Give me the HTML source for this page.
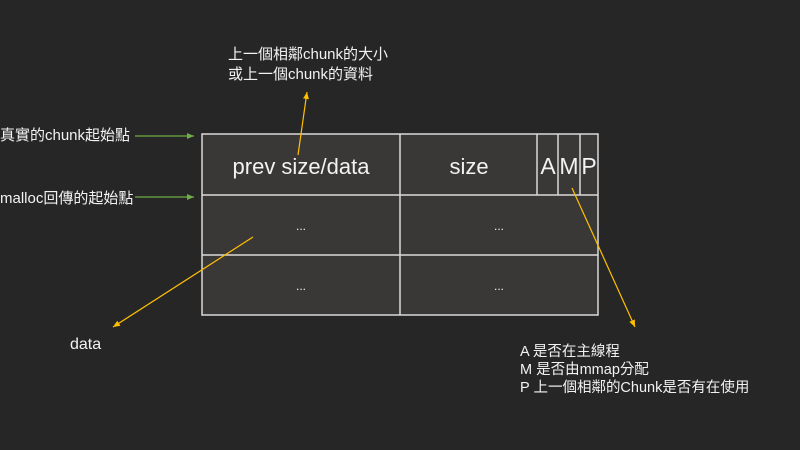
<!DOCTYPE html>
<html><head><meta charset="utf-8"><style>
body{margin:0;width:800px;height:450px;background:#262626;overflow:hidden;font-family:"Liberation Sans","Noto Sans CJK TC",sans-serif;color:#fff}
</style></head><body>
<svg width="800" height="450" xmlns="http://www.w3.org/2000/svg" style="position:absolute;left:0;top:0">
<defs>
<marker id="g" markerWidth="8" markerHeight="8" refX="7" refY="4" orient="auto" markerUnits="userSpaceOnUse"><path d="M0,1 L7,4 L0,7z" fill="#70ad47"/></marker>
<marker id="o" markerWidth="8" markerHeight="8" refX="7" refY="4" orient="auto" markerUnits="userSpaceOnUse"><path d="M0,1 L7,4 L0,7z" fill="#ffc000"/></marker>
</defs>
<rect x="202" y="134" width="396" height="181" fill="#3a3836" stroke="#d9d9d9" stroke-width="1.5"/>
<g stroke="#d9d9d9" stroke-width="1.5">
<line x1="202" y1="195" x2="598" y2="195"/>
<line x1="202" y1="255" x2="598" y2="255"/>
<line x1="400" y1="134" x2="400" y2="315"/>
<line x1="537" y1="134" x2="537" y2="195"/>
<line x1="558" y1="134" x2="558" y2="195"/>
<line x1="580" y1="134" x2="580" y2="195"/>
</g>
<g font-family="Liberation Sans, Noto Sans CJK TC, sans-serif" fill="#f2f2f2">
<text x="301" y="174" font-size="22" text-anchor="middle">prev size/data</text>
<text x="469" y="174" font-size="22" text-anchor="middle">size</text>
<text x="548" y="174" font-size="23" text-anchor="middle">A</text>
<text x="569" y="174" font-size="23" text-anchor="middle">M</text>
<text x="589" y="174" font-size="23" text-anchor="middle">P</text>
<text x="301" y="230" font-size="12" text-anchor="middle">...</text>
<text x="499" y="230" font-size="12" text-anchor="middle">...</text>
<text x="301" y="290" font-size="12" text-anchor="middle">...</text>
<text x="499" y="290" font-size="12" text-anchor="middle">...</text>
<text x="0" y="140" font-size="15">真實的chunk起始點</text>
<text x="0" y="203" font-size="15">malloc回傳的起始點</text>
<text x="228" y="59" font-size="15">上一個相鄰chunk的大小</text>
<text x="228" y="79" font-size="15">或上一個chunk的資料</text>
<text x="70" y="349" font-size="16">data</text>
<text x="520" y="356" font-size="14.5">A 是否在主線程</text>
<text x="520" y="374" font-size="14.5">M 是否由mmap分配</text>
<text x="520" y="392" font-size="14.5">P 上一個相鄰的Chunk是否有在使用</text>
</g>
<line x1="135" y1="136" x2="194" y2="136" stroke="#70ad47" stroke-width="1.2" marker-end="url(#g)"/>
<line x1="135" y1="197" x2="194" y2="197" stroke="#70ad47" stroke-width="1.2" marker-end="url(#g)"/>
<line x1="298" y1="155" x2="307" y2="92" stroke="#ffc000" stroke-width="1.2" marker-end="url(#o)"/>
<line x1="253" y1="237" x2="113" y2="327" stroke="#ffc000" stroke-width="1.2" marker-end="url(#o)"/>
<line x1="572" y1="188" x2="635" y2="327" stroke="#ffc000" stroke-width="1.2" marker-end="url(#o)"/>
</svg>
</body></html>
